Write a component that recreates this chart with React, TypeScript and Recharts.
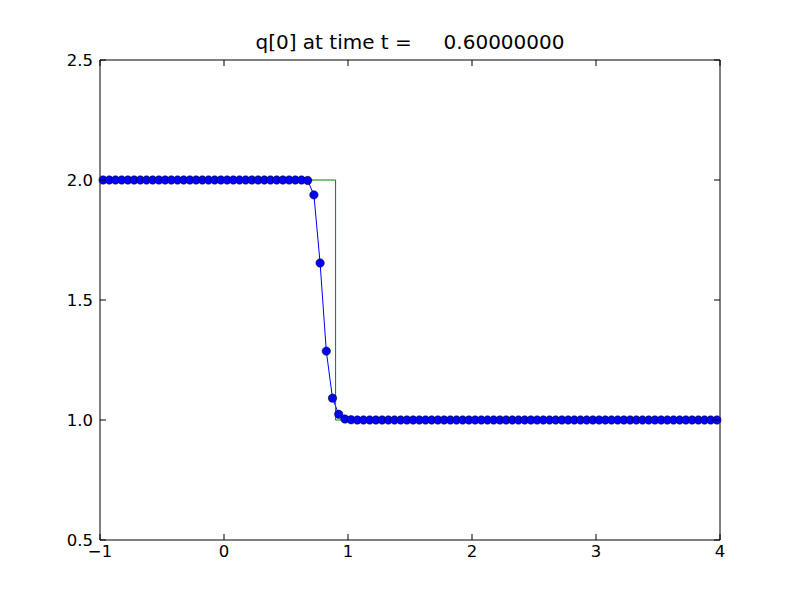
import React from 'react';
import { LineChart, Line, XAxis, YAxis, ReferenceArea } from 'recharts';

// cell centres of the computed solution
const cellCenters = [
  -0.975, -0.925, -0.875, -0.825, -0.775, -0.725, -0.675, -0.625, -0.575, -0.525,
  -0.475, -0.425, -0.375, -0.325, -0.275, -0.225, -0.175, -0.125, -0.075, -0.025,
  0.025, 0.075, 0.125, 0.175, 0.225, 0.275, 0.325, 0.375, 0.425, 0.475,
  0.525, 0.575, 0.625, 0.675, 0.725, 0.775, 0.825, 0.875, 0.925, 0.975,
  1.025, 1.075, 1.125, 1.175, 1.225, 1.275, 1.325, 1.375, 1.425, 1.475,
  1.525, 1.575, 1.625, 1.675, 1.725, 1.775, 1.825, 1.875, 1.925, 1.975,
  2.025, 2.075, 2.125, 2.175, 2.225, 2.275, 2.325, 2.375, 2.425, 2.475,
  2.525, 2.575, 2.625, 2.675, 2.725, 2.775, 2.825, 2.875, 2.925, 2.975,
  3.025, 3.075, 3.125, 3.175, 3.225, 3.275, 3.325, 3.375, 3.425, 3.475,
  3.525, 3.575, 3.625, 3.675, 3.725, 3.775, 3.825, 3.875, 3.925, 3.975,
];

// q[0] in each cell
const qValues = [
  2, 2, 2, 2, 2, 2, 2, 2, 2, 2,
  2, 2, 2, 2, 2, 2, 2, 2, 2, 2,
  2, 2, 2, 2, 2, 2, 2, 2, 2, 2,
  2, 2, 2, 1.998, 1.938, 1.654, 1.287, 1.091, 1.024, 1.004,
  1.001, 1, 1, 1, 1, 1, 1, 1, 1, 1,
  1, 1, 1, 1, 1, 1, 1, 1, 1, 1,
  1, 1, 1, 1, 1, 1, 1, 1, 1, 1,
  1, 1, 1, 1, 1, 1, 1, 1, 1, 1,
  1, 1, 1, 1, 1, 1, 1, 1, 1, 1,
  1, 1, 1, 1, 1, 1, 1, 1, 1, 1,
];

// exact solution (step)
const exactX = [-1, 0.9, 0.9, 4];
const exactQ = [2, 2, 1, 1];

const xTicks = [-1, 0, 1, 2, 3, 4];
const yTicks = [0.5, 1.0, 1.5, 2.0, 2.5];
const titleText = 'q[0] at time t =     0.60000000';

const computed = cellCenters.map((x, i) => ({ x, q: qValues[i] }));
const exact = exactX.map((x, i) => ({ x, q: exactQ[i] }));

const W = 800;
const H = 600;
const LEFT = 100;
const RIGHT = 720;
const TOP = 60;
const BOTTOM = 540;
const TICK_LEN = 6;
const FONT = '"DejaVu Sans", sans-serif';

const fmtX = (v: number) => (v < 0 ? '\u2212' + Math.abs(v) : String(v));

const XTick = (props: any) => {
  const { x, payload } = props;
  return (
    <g>
      <line x1={x} x2={x} y1={BOTTOM} y2={BOTTOM - TICK_LEN} stroke="#000" />
      <line x1={x} x2={x} y1={TOP} y2={TOP + TICK_LEN} stroke="#000" />
      <text x={x} y={BOTTOM + 17} textAnchor="middle" fontSize={16.5} fontFamily={FONT} fill="#000">
        {fmtX(payload.value)}
      </text>
    </g>
  );
};

const YTick = (props: any) => {
  const { y, payload } = props;
  return (
    <g>
      <line x1={LEFT} x2={LEFT + TICK_LEN} y1={y} y2={y} stroke="#000" />
      <line x1={RIGHT} x2={RIGHT - TICK_LEN} y1={y} y2={y} stroke="#000" />
      <text x={LEFT - 7} y={y + 6} textAnchor="end" fontSize={16.5} fontFamily={FONT} fill="#000">
        {payload.value.toFixed(1)}
      </text>
    </g>
  );
};

const App: React.FC = () => {
  return (
    <div style={{ position: 'absolute', left: 0, top: 0, width: W, height: H, background: '#fff' }}>
      <div
        style={{
          position: 'absolute',
          left: LEFT,
          width: RIGHT - LEFT,
          top: 30,
          textAlign: 'center',
          fontFamily: FONT,
          fontSize: 20,
          whiteSpace: 'pre',
          lineHeight: '24px',
        }}
      >
        {titleText}
      </div>
      <LineChart
        width={W}
        height={H}
        margin={{ top: TOP, right: W - RIGHT, bottom: 0, left: 0 }}
      >
        <XAxis
          dataKey="x"
          type="number"
          domain={[-1, 4]}
          ticks={xTicks}
          height={H - BOTTOM}
          axisLine={false}
          tickLine={false}
          tick={<XTick />}
          allowDuplicatedCategory={false}
        />
        <YAxis
          dataKey="q"
          type="number"
          domain={[0.5, 2.5]}
          ticks={yTicks}
          width={LEFT}
          axisLine={false}
          tickLine={false}
          tick={<YTick />}
        />
        <ReferenceArea x1={-1} x2={4} y1={0.5} y2={2.5} fill="none" stroke="#000" strokeWidth={1} />
        <Line
          data={computed}
          dataKey="q"
          stroke="#0000ff"
          strokeWidth={1}
          dot={{ r: 4.2, fill: '#0000ff', stroke: '#000', strokeWidth: 0.5 }}
          isAnimationActive={false}
        />
        <Line
          data={exact}
          dataKey="q"
          stroke="#008000"
          strokeWidth={1}
          dot={false}
          isAnimationActive={false}
        />
      </LineChart>
    </div>
  );
};

export default App;
